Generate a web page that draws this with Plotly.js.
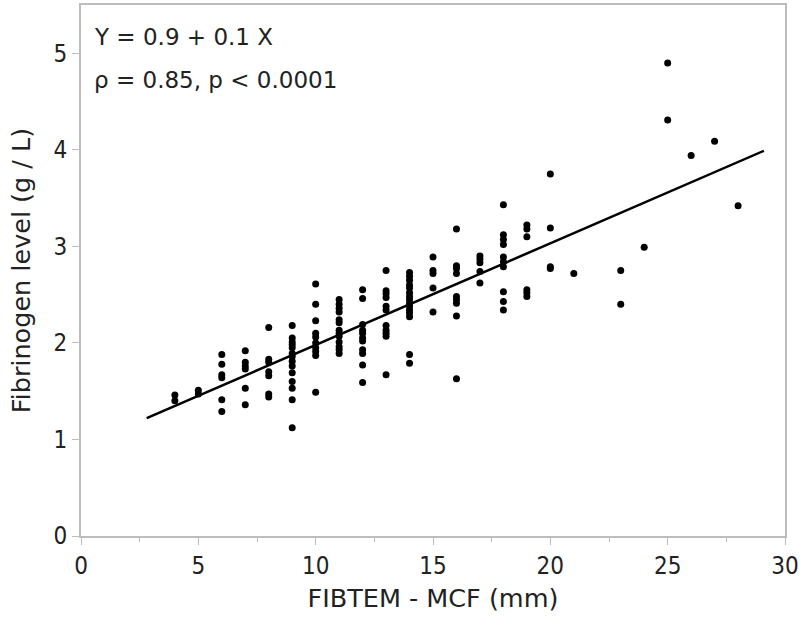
<!DOCTYPE html>
<html>
<head>
<meta charset="utf-8">
<script src="https://cdn.plot.ly/plotly-3.0.1.min.js"></script>
<style>
    html, body { margin: 0; padding: 0; background: #fff; }
    #fibrinogen-scatter { width: 800px; height: 618px; }
</style>
</head>
<body>
<div id="fibrinogen-scatter"></div>
<script>
// ======================================================================
// データ
// ======================================================================

// FIBTEM - MCF (mm)
const fibtemMcf = [
    4, 4,
    5, 5,
    6, 6, 6, 6, 6, 6,
    7, 7, 7, 7, 7, 7,
    8, 8, 8, 8, 8, 8, 8,
    9, 9, 9, 9, 9, 9, 9, 9, 9, 9, 9, 9, 9, 9,
    10, 10, 10, 10, 10, 10, 10, 10, 10, 10,
    11, 11, 11, 11, 11, 11, 11, 11, 11, 11, 11, 11, 11,
    12, 12, 12, 12, 12, 12, 12, 12, 12, 12, 12,
    13, 13, 13, 13, 13, 13, 13, 13, 13, 13, 13,
    14, 14, 14, 14, 14, 14, 14, 14, 14, 14, 14, 14, 14, 14, 14,
    15, 15, 15, 15, 15,
    16, 16, 16, 16, 16, 16, 16, 16, 16,
    17, 17, 17, 17, 17,
    18, 18, 18, 18, 18, 18, 18, 18, 18, 18,
    19, 19, 19, 19, 19, 19,
    20, 20, 20, 20,
    21,
    23, 23,
    24,
    25, 25,
    26,
    27,
    28
];

// Fibrinogen level (g / L)
const fibrinogen = [
    1.46, 1.40,
    1.51, 1.47,
    1.88, 1.78, 1.67, 1.64, 1.41, 1.29,
    1.92, 1.80, 1.76, 1.73, 1.53, 1.36,
    2.16, 1.83, 1.80, 1.70, 1.66, 1.47, 1.44,
    2.18, 2.05, 2.01, 1.98, 1.95, 1.89, 1.86, 1.81, 1.76, 1.69, 1.60, 1.53, 1.41, 1.12,
    2.61, 2.40, 2.23, 2.10, 2.06, 2.00, 1.95, 1.91, 1.87, 1.49,
    2.45, 2.40, 2.36, 2.32, 2.24, 2.21, 2.13, 2.10, 2.07, 2.01, 1.96, 1.93, 1.89,
    2.55, 2.46, 2.19, 2.13, 2.10, 2.05, 2.02, 1.93, 1.89, 1.77, 1.59,
    2.75, 2.54, 2.51, 2.47, 2.38, 2.34, 2.18, 2.13, 2.10, 2.07, 1.67,
    2.73, 2.69, 2.65, 2.60, 2.57, 2.52, 2.48, 2.45, 2.41, 2.38, 2.34, 2.31, 2.27, 1.88, 1.79,
    2.89, 2.75, 2.72, 2.57, 2.32,
    3.18, 2.80, 2.77, 2.72, 2.48, 2.45, 2.41, 2.28, 1.63,
    2.90, 2.87, 2.83, 2.74, 2.62,
    3.43, 3.12, 3.07, 3.02, 2.89, 2.84, 2.79, 2.53, 2.43, 2.34,
    3.22, 3.18, 3.10, 2.55, 2.52, 2.48,
    3.75, 3.19, 2.79, 2.77,
    2.72,
    2.75, 2.40,
    2.99,
    4.90, 4.31,
    3.94,
    4.09,
    3.42
];

// 回帰直線の両端
const fitX = [2.8, 29.1];
const fitY = [1.22, 3.99];

const equationText = 'Y = 0.9 + 0.1 X';
const statsText = 'ρ = 0.85, p < 0.0001';

const xTickVals = [0, 5, 10, 15, 20, 25, 30];
const yTickVals = [0, 1, 2, 3, 4, 5];

// ======================================================================
// 散布図
// ======================================================================

/**
 * FIBTEM-MCF とフィブリノゲン値の散布図を描画
 */
function plotFibrinogenScatter() {
    const fontFamily = '"DejaVu Sans", Verdana, sans-serif';
    // 目盛りの数字は少し縦長の書体
    const tickFamily = '"DejaVu Sans Condensed", "DejaVu Sans", sans-serif';
    const axisColor = '#bdbdbd';

    const data = [
        {
            type: 'scatter',
            mode: 'markers',
            x: fibtemMcf,
            y: fibrinogen,
            marker: { color: '#000', size: 7 },
            showlegend: false,
            hoverinfo: 'x+y'
        },
        {
            type: 'scatter',
            mode: 'lines',
            x: fitX,
            y: fitY,
            line: { color: '#000', width: 2.5 },
            showlegend: false,
            hoverinfo: 'skip'
        }
    ];

    const axisBase = {
        showline: true,
        mirror: true,
        linecolor: axisColor,
        linewidth: 2,
        showgrid: false,
        zeroline: false,
        ticks: 'outside',
        ticklen: 7,
        tickwidth: 1,
        tickcolor: axisColor,
        tickfont: { family: tickFamily, size: 24, color: '#222' }
    };

    const layout = {
        width: 800,
        height: 618,
        margin: { l: 81, r: 15, t: 5, b: 82 },
        paper_bgcolor: '#fff',
        plot_bgcolor: '#fff',
        font: { family: fontFamily, color: '#222' },
        xaxis: {
            ...axisBase,
            range: [0, 30],
            tickmode: 'array',
            tickvals: xTickVals,
            minor: { ticks: 'outside', ticklen: 4, dtick: 2.5, tickcolor: axisColor, tickwidth: 1 },
            title: { text: 'FIBTEM - MCF (mm)', font: { family: fontFamily, size: 25.5, color: '#222' }, standoff: 10 }
        },
        yaxis: {
            ...axisBase,
            range: [0, 5.5],
            tickmode: 'array',
            tickvals: yTickVals,
            title: { text: 'Fibrinogen level (g / L)', font: { family: fontFamily, size: 25.5, color: '#222' }, standoff: 16 }
        },
        annotations: [
            {
                xref: 'x', yref: 'y',
                x: 0.45, y: 5.17,
                xanchor: 'left', yanchor: 'middle',
                text: equationText,
                showarrow: false,
                font: { family: fontFamily, size: 23, color: '#222' }
            },
            {
                xref: 'x', yref: 'y',
                x: 0.45, y: 4.72,
                xanchor: 'left', yanchor: 'middle',
                text: statsText,
                showarrow: false,
                font: { family: fontFamily, size: 23, color: '#222' }
            }
        ]
    };

    Plotly.newPlot('fibrinogen-scatter', data, layout, { staticPlot: true, displayModeBar: false });
}

plotFibrinogenScatter();
</script>
</body>
</html>
